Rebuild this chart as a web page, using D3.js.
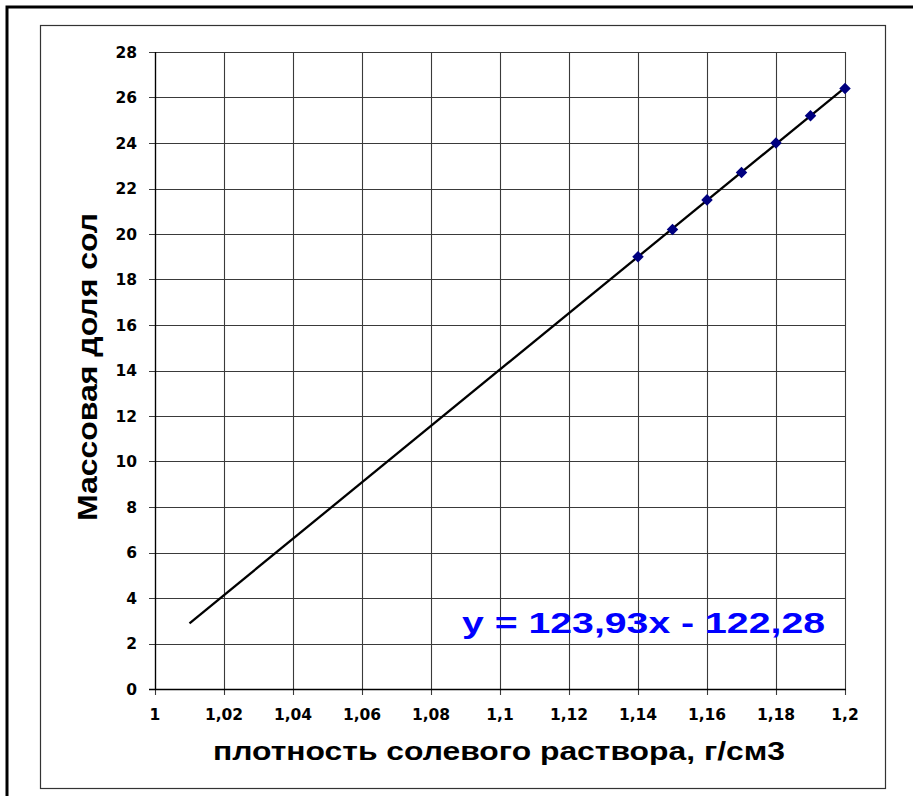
<script src='https://d3js.org/d3.v7.min.js'></script>

<style>
  body { margin: 0; background: #fff; }
  svg text {
    font-family: "Liberation Sans", Arial, sans-serif;
    font-weight: bold;
    fill: black;
  }
  svg text.tick {
    font-family: "DejaVu Sans", sans-serif;
    font-size: 15.5px;
  }
</style>

<body>
<script>
  // measured points
  var density = [1.14, 1.15, 1.16, 1.17, 1.18, 1.19, 1.2];
  var massShare = [19.0, 20.2, 21.5, 22.7, 24.0, 25.2, 26.4];
  // trend line y = 123.93x - 122.28, drawn from 1.01 to 1.2
  var trendX = [1.01, 1.2];
  var slope = 123.93, intercept = -122.28;
  var xTicks = [1, 1.02, 1.04, 1.06, 1.08, 1.1, 1.12, 1.14, 1.16, 1.18, 1.2];
  var yTicks = [0, 2, 4, 6, 8, 10, 12, 14, 16, 18, 20, 22, 24, 26, 28];

  var W = 913, H = 796;
  var plotL = 155, plotR = 845, plotT = 52, plotB = 689;

  var svg = d3.select("body").append("svg")
    .attr("width", W)
    .attr("height", H);

  // outer frame (goes off the picture on the right/bottom)
  svg.append("rect")
    .attr("x", 7).attr("y", 7)
    .attr("width", 930).attr("height", 820)
    .attr("fill", "none").attr("stroke", "black").attr("stroke-width", 3);

  // chart area frame
  svg.append("rect")
    .attr("x", 40.5).attr("y", 25.5)
    .attr("width", 845).attr("height", 763)
    .attr("fill", "white").attr("stroke", "#333").attr("stroke-width", 1.2);

  var x = d3.scaleLinear().domain([1, 1.2]).range([plotL, plotR]);
  var y = d3.scaleLinear().domain([0, 28]).range([plotB, plotT]);

  var fmt = function(d) { return String(+d.toFixed(2)).replace(".", ","); };

  // grid
  svg.append("g").selectAll("line").data(yTicks).enter().append("line")
    .attr("x1", plotL - 6).attr("x2", plotR)
    .attr("y1", function(d) { return Math.round(y(d)) + 0.5; })
    .attr("y2", function(d) { return Math.round(y(d)) + 0.5; })
    .attr("stroke", "#3a3a3a").attr("stroke-width", 1.1);

  svg.append("g").selectAll("line").data(xTicks).enter().append("line")
    .attr("x1", function(d) { return Math.round(x(d)) + 0.5; })
    .attr("x2", function(d) { return Math.round(x(d)) + 0.5; })
    .attr("y1", plotT).attr("y2", plotB + 6)
    .attr("stroke", "#3a3a3a").attr("stroke-width", 1.1);

  // axes lines
  svg.append("line")
    .attr("x1", plotL + 0.5).attr("x2", plotL + 0.5)
    .attr("y1", plotT).attr("y2", plotB + 1)
    .attr("stroke", "black").attr("stroke-width", 1.3);
  svg.append("line")
    .attr("x1", plotL - 6).attr("x2", plotR + 1)
    .attr("y1", plotB + 0.5).attr("y2", plotB + 0.5)
    .attr("stroke", "black").attr("stroke-width", 1.3);

  // tick labels
  svg.append("g").selectAll("text").data(yTicks).enter().append("text")
    .attr("class", "tick")
    .attr("x", 137)
    .attr("y", function(d) { return y(d) + 5.5; })
    .attr("text-anchor", "end")
    .text(function(d) { return d; });

  svg.append("g").selectAll("text").data(xTicks).enter().append("text")
    .attr("class", "tick")
    .attr("x", function(d) { return x(d); })
    .attr("y", 720)
    .attr("text-anchor", "middle")
    .text(fmt);

  // trend line
  svg.append("path")
    .datum(trendX)
    .attr("d", d3.line()
      .x(function(d) { return x(d); })
      .y(function(d) { return y(slope * d + intercept); }))
    .attr("fill", "none").attr("stroke", "black").attr("stroke-width", 2.3);

  // markers
  svg.append("g").selectAll("path").data(density).enter().append("path")
    .attr("d", d3.symbol().type(d3.symbolDiamond2).size(85))
    .attr("transform", function(d, i) {
      return "translate(" + x(d) + "," + y(massShare[i]) + ")";
    })
    .attr("fill", "#000080");

  // equation
  svg.append("text")
    .attr("x", 462).attr("y", 633)
    .attr("textLength", 363)
    .attr("lengthAdjust", "spacingAndGlyphs")
    .style("font-size", "29px")
    .style("fill", "#0000ff")
    .text("y = 123,93x - 122,28");

  // axis titles
  svg.append("text")
    .attr("x", 213).attr("y", 760)
    .attr("textLength", 572)
    .attr("lengthAdjust", "spacingAndGlyphs")
    .style("font-size", "26px")
    .text("плотность солевого раствора, г/см3");

  svg.append("text")
    .attr("transform", "translate(97,521) rotate(-90)")
    .attr("textLength", 308)
    .attr("lengthAdjust", "spacingAndGlyphs")
    .style("font-size", "27px")
    .text("Массовая доля сол");
</script>
</body>
